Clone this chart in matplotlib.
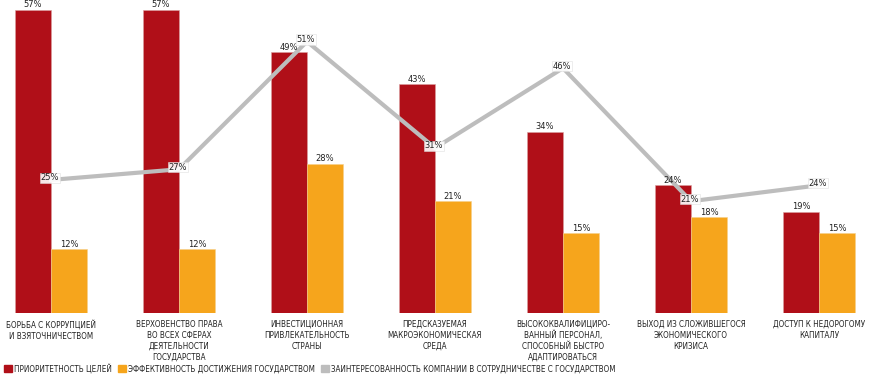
import matplotlib
matplotlib.use("Agg")
import matplotlib.pyplot as plt
import numpy as np
from matplotlib.patches import Patch

categories = [
    "БОРЬБА С КОРРУПЦИЕЙ\nИ ВЗЯТОЧНИЧЕСТВОМ",
    "ВЕРХОВЕНСТВО ПРАВА\nВО ВСЕХ СФЕРАХ\nДЕЯТЕЛЬНОСТИ\nГОСУДАРСТВА",
    "ИНВЕСТИЦИОННАЯ\nПРИВЛЕКАТЕЛЬНОСТЬ\nСТРАНЫ",
    "ПРЕДСКАЗУЕМАЯ\nМАКРОЭКОНОМИЧЕСКАЯ\nСРЕДА",
    "ВЫСОКОКВАЛИФИЦИРО-\nВАННЫЙ ПЕРСОНАЛ,\nСПОСОБНЫЙ БЫСТРО\nАДАПТИРОВАТЬСЯ",
    "ВЫХОД ИЗ СЛОЖИВШЕГОСЯ\nЭКОНОМИЧЕСКОГО\nКРИЗИСА",
    "ДОСТУП К НЕДОРОГОМУ\nКАПИТАЛУ",
]
priority = [57, 57, 49, 43, 34, 24, 19]
efficiency = [12, 12, 28, 21, 15, 18, 15]
interest = [25, 27, 51, 31, 46, 21, 24]
series_names = [
    "ПРИОРИТЕТНОСТЬ ЦЕЛЕЙ",
    "ЭФФЕКТИВНОСТЬ ДОСТИЖЕНИЯ ГОСУДАРСТВОМ",
    "ЗАИНТЕРЕСОВАННОСТЬ КОМПАНИИ В СОТРУДНИЧЕСТВЕ С ГОСУДАРСТВОМ",
]

RED = "#B00F18"
ORANGE = "#F6A51C"
GRAY = "#BDBDBD"
TXT = "#222222"

plt.rcParams["font.family"] = ["DejaVu Sans"]
plt.rcParams["font.stretch"] = "condensed"

fig = plt.figure(figsize=(8.7, 3.75), dpi=100)
ax = fig.add_axes([0, 62 / 375, 1, 313 / 375])
x = np.arange(len(categories))
w = 0.28

ax.bar(x - w / 2, priority, w, color=RED, edgecolor="#d9a0a0", linewidth=0.4, zorder=2)
ax.bar(x + w / 2, efficiency, w, color=ORANGE, edgecolor="#f5d08a", linewidth=0.4, zorder=2)
ax.plot(x, interest, color=GRAY, lw=3.0, zorder=3, solid_joinstyle="miter")

lab_kw = dict(fontsize=6.7, color=TXT, stretch="condensed")
for xi, v in zip(x - w / 2, priority):
    ax.text(xi, v + 0.1, f"{v}%", ha="center", va="bottom", zorder=4, **lab_kw)
for xi, v in zip(x + w / 2, efficiency):
    ax.text(xi, v + 0.1, f"{v}%", ha="center", va="bottom", zorder=4, **lab_kw)
for xi, v in zip(x, interest):
    ax.text(xi - 0.01, v + 0.4, f"{v}%", ha="center", va="center", zorder=5,
            bbox=dict(boxstyle="square,pad=0.08", fc="white", ec="#dddddd", lw=0.4, alpha=0.9),
            **lab_kw)

ax.set_xlim(-0.398, 6.398)
ax.set_ylim(0, 58.8)
ax.axis("off")

for xi, lab in zip(x, categories):
    ax.text(xi, -1.3, lab, ha="center", va="top", fontsize=5.8, color=TXT,
            stretch="condensed", linespacing=1.26)

handles = [Patch(color=RED), Patch(color=ORANGE), Patch(color=GRAY)]
leg = fig.legend(handles, series_names, loc="lower left", bbox_to_anchor=(0.0, -0.006), ncol=3,
                 frameon=False, prop=dict(size=5.8, stretch="condensed"),
                 handlelength=1.0, handleheight=1.0,
                 handletextpad=0.25, columnspacing=0.75, borderaxespad=0.1)
for t in leg.get_texts():
    t.set_color(TXT)

fig.savefig("out.png", dpi=100)
